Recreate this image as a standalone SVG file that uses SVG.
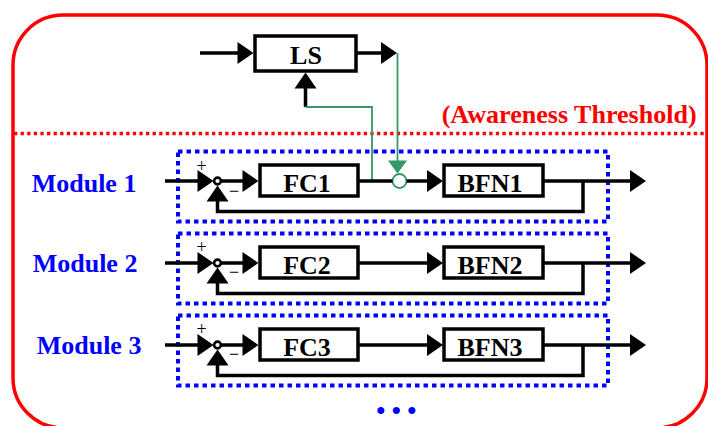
<svg xmlns="http://www.w3.org/2000/svg" width="708" height="426" viewBox="0 0 708 426">
<style>
  text { font-family: "Liberation Serif", "Times New Roman", serif; font-weight: bold; }
  .blk { fill: #fff; stroke: #000; stroke-width: 3.5; }
  .lbl { font-size: 26px; fill: #000; text-anchor: middle; }
  .mod { fill: none; stroke: #0000ff; stroke-width: 4; stroke-dasharray: 4.5 4; }
  .modlbl { font-size: 26px; fill: #0000ff; }
  .sign { font-size: 18px; font-weight: normal; fill: #000; text-anchor: middle; }
  .sum { fill: #fff; stroke: #000; stroke-width: 2.6; }
  .wire { fill: none; stroke: #000; stroke-width: 3.5; }
  .gwire { fill: none; stroke: #339966; stroke-width: 1.8; }
  .ah { fill: #000; }
  .gah { fill: #339966; }
</style>
<defs>
  <path id="ah" d="M0,0 L-16,-11 L-16,11 Z"/>
  <path id="gah" d="M0,0 L-13,-9.5 L-13,9.5 Z"/>
</defs>

<g id="frame">
  <rect x="13" y="15" width="694" height="413" rx="50" ry="50" fill="none" stroke="#ff0000" stroke-width="3.5"/>
  <line x1="14" y1="133.5" x2="706" y2="133.5" stroke="#ff0000" stroke-width="3.5" stroke-dasharray="3.3 3.3"/>
  <text x="441.7" y="123.3" font-size="25.5" fill="#ff0000" textLength="255" lengthAdjust="spacingAndGlyphs">(Awareness Threshold)</text>
</g>

<g id="module1">
  <rect class="mod" x="178" y="151.5" width="430" height="70"/>
  <text class="modlbl" x="31.7" y="191.5">Module 1</text>
</g>
<g id="module2">
  <rect class="mod" x="178" y="233.5" width="430" height="70"/>
  <text class="modlbl" x="32.7" y="272">Module 2</text>
</g>
<g id="module3">
  <rect class="mod" x="178" y="315.5" width="430" height="70"/>
  <text class="modlbl" x="36.7" y="353.5">Module 3</text>
</g>

<g id="LS">
  <rect class="blk" x="255" y="36" width="101" height="35"/>
  <text class="lbl" x="306" y="64.3">LS</text>
</g>

<g id="sum1">
  <circle class="sum" cx="217.5" cy="181" r="3.4"/>
  <text class="sign" x="201.7" y="171.5">+</text>
  <text class="sign" x="234" y="196.5">−</text>
</g>
<g id="FC1">
  <rect class="blk" x="260" y="165" width="98" height="31"/>
  <text class="lbl" x="307" y="191.7">FC1</text>
</g>
<g id="gate1">
  <circle cx="399.5" cy="181" r="7" fill="#fff" stroke="#339966" stroke-width="1.8"/>
</g>
<g id="BFN1">
  <rect class="blk" x="444" y="165" width="99" height="31"/>
  <text class="lbl" x="490" y="191.7">BFN1</text>
</g>

<g id="sum2">
  <circle class="sum" cx="217.5" cy="263" r="3.4"/>
  <text class="sign" x="201.7" y="252.5">+</text>
  <text class="sign" x="234" y="277.5">−</text>
</g>
<g id="FC2">
  <rect class="blk" x="260" y="247" width="98" height="31"/>
  <text class="lbl" x="307" y="273.7">FC2</text>
</g>
<g id="BFN2">
  <rect class="blk" x="444" y="247" width="99" height="31"/>
  <text class="lbl" x="490" y="273.7">BFN2</text>
</g>

<g id="sum3">
  <circle class="sum" cx="217.5" cy="345" r="3.4"/>
  <text class="sign" x="201.7" y="334.5">+</text>
  <text class="sign" x="234" y="359.5">−</text>
</g>
<g id="FC3">
  <rect class="blk" x="260" y="329" width="98" height="31"/>
  <text class="lbl" x="307" y="355.7">FC3</text>
</g>
<g id="BFN3">
  <rect class="blk" x="444" y="329" width="99" height="31"/>
  <text class="lbl" x="490" y="355.7">BFN3</text>
</g>

<g id="more">
  <text x="380.7 396.3 411.7" y="419" font-size="26" fill="#0000ff" text-anchor="middle">•••</text>
</g>

<g id="connectors">
  <!-- LS -->
  <line class="wire" x1="200" y1="53" x2="239" y2="53"/>
  <use href="#ah" class="ah" transform="translate(253.5,53)"/>
  <line class="wire" x1="357" y1="53" x2="382" y2="53"/>
  <use href="#ah" class="ah" transform="translate(397,53)"/>
  <line class="wire" x1="305.5" y1="87" x2="305.5" y2="107" stroke-width="3"/>
  <use href="#ah" class="ah" transform="translate(305.5,72.5) rotate(-90)"/>
  <polyline class="gwire" points="305.5,107 372,107 372,181"/>
  <line class="gwire" x1="397.5" y1="53" x2="397.5" y2="161"/>
  <use href="#gah" class="gah" transform="translate(397.5,173.5) rotate(90)"/>

  <!-- row 1 -->
  <line class="wire" x1="165" y1="181" x2="198" y2="181"/>
  <use href="#ah" class="ah" transform="translate(213.5,181)"/>
  <use href="#ah" class="ah" transform="translate(217.5,185.5) rotate(-90)"/>
  <polyline class="wire" points="217.5,201 217.5,211.5 583,211.5 583,181"/>
  <line class="wire" x1="221" y1="181" x2="243" y2="181" stroke-width="3"/>
  <use href="#ah" class="ah" transform="translate(258.5,181)"/>
  <line class="wire" x1="358" y1="181" x2="392.5" y2="181" stroke-width="3"/>
  <line class="wire" x1="406.5" y1="181" x2="429" y2="181" stroke-width="3"/>
  <use href="#ah" class="ah" transform="translate(443,181)"/>
  <line class="wire" x1="543" y1="181" x2="631" y2="181" stroke-width="3"/>
  <use href="#ah" class="ah" transform="translate(646,181)"/>

  <!-- row 2 -->
  <line class="wire" x1="165" y1="263" x2="198" y2="263"/>
  <use href="#ah" class="ah" transform="translate(213.5,263)"/>
  <use href="#ah" class="ah" transform="translate(217.5,267.5) rotate(-90)"/>
  <polyline class="wire" points="217.5,283 217.5,293.5 583,293.5 583,263"/>
  <line class="wire" x1="221" y1="263" x2="243" y2="263" stroke-width="3"/>
  <use href="#ah" class="ah" transform="translate(258.5,263)"/>
  <line class="wire" x1="358" y1="263" x2="429" y2="263" stroke-width="3"/>
  <use href="#ah" class="ah" transform="translate(443,263)"/>
  <line class="wire" x1="543" y1="263" x2="631" y2="263" stroke-width="3"/>
  <use href="#ah" class="ah" transform="translate(646,263)"/>

  <!-- row 3 -->
  <line class="wire" x1="165" y1="345" x2="198" y2="345"/>
  <use href="#ah" class="ah" transform="translate(213.5,345)"/>
  <use href="#ah" class="ah" transform="translate(217.5,349.5) rotate(-90)"/>
  <polyline class="wire" points="217.5,365 217.5,375.5 583,375.5 583,345"/>
  <line class="wire" x1="221" y1="345" x2="243" y2="345" stroke-width="3"/>
  <use href="#ah" class="ah" transform="translate(258.5,345)"/>
  <line class="wire" x1="358" y1="345" x2="429" y2="345" stroke-width="3"/>
  <use href="#ah" class="ah" transform="translate(443,345)"/>
  <line class="wire" x1="543" y1="345" x2="631" y2="345" stroke-width="3"/>
  <use href="#ah" class="ah" transform="translate(646,345)"/>
</g>
</svg>
